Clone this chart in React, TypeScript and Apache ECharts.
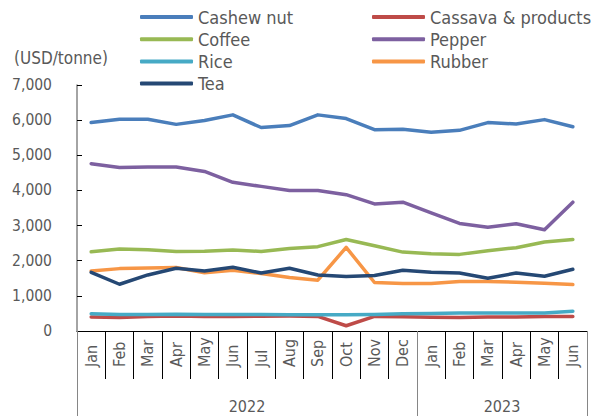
import React, { useEffect, useRef } from "react";
import * as echarts from "echarts";

const months = ["Jan","Feb","Mar","Apr","May","Jun","Jul","Aug","Sep","Oct","Nov","Dec","Jan","Feb","Mar","Apr","May","Jun"];
const years = ["2022", "2023"];
const yTicks = [0, 1000, 2000, 3000, 4000, 5000, 6000, 7000];

const cashew = [5930, 6025, 6025, 5880, 5990, 6150, 5790, 5845, 6150, 6045, 5730, 5740, 5655, 5710, 5930, 5890, 6015, 5810];
const cassava = [400, 385, 415, 425, 415, 415, 420, 425, 415, 150, 415, 405, 390, 385, 395, 400, 410, 415];
const coffee = [2255, 2330, 2310, 2265, 2270, 2305, 2265, 2350, 2400, 2605, 2425, 2245, 2200, 2180, 2285, 2370, 2530, 2605];
const pepper = [4760, 4655, 4665, 4665, 4540, 4230, 4115, 4000, 4000, 3880, 3615, 3665, 3360, 3060, 2955, 3050, 2880, 3665];
const rice = [490, 470, 470, 480, 470, 470, 470, 465, 460, 460, 470, 490, 500, 510, 515, 510, 515, 565];
const rubber = [1710, 1775, 1790, 1805, 1660, 1730, 1635, 1520, 1445, 2380, 1380, 1350, 1350, 1410, 1410, 1390, 1360, 1320];
const tea = [1670, 1330, 1595, 1785, 1710, 1815, 1650, 1785, 1595, 1550, 1580, 1730, 1670, 1650, 1500, 1650, 1560, 1755];

const seriesDefs = [
  { name: "Cashew nut", data: cashew, color: "#4A7EBB" },
  { name: "Cassava & products", data: cassava, color: "#BE4B48" },
  { name: "Coffee", data: coffee, color: "#98B954" },
  { name: "Pepper", data: pepper, color: "#7D60A0" },
  { name: "Rice", data: rice, color: "#46AAC5" },
  { name: "Rubber", data: rubber, color: "#F79646" },
  { name: "Tea", data: tea, color: "#254874" },
];

const FONT = "'DejaVu Sans Condensed', 'Liberation Sans', sans-serif";
const TXT = "#595959";

export default function App() {
  const ref = useRef<HTMLDivElement>(null);
  useEffect(() => {
    if (!ref.current) return;
    const chart = echarts.init(ref.current, undefined, { renderer: "svg" });
    const legendCommon = {
      orient: "vertical",
      top: 8,
      padding: 0,
      itemWidth: 53,
      itemHeight: 4,
      itemGap: 4.2,
      icon: "roundRect",
      textStyle: { fontFamily: FONT, fontSize: 18, color: TXT },
    };
    chart.setOption({
      animation: false,
      backgroundColor: "#ffffff",
      title: {
        text: "(USD/tonne)",
        left: 14,
        top: 49,
        padding: 0,
        textStyle: { fontFamily: FONT, fontSize: 17, fontWeight: "normal", color: TXT },
      },
      legend: [
        { ...legendCommon, left: 140, data: ["Cashew nut", "Coffee", "Rice", "Tea"] },
        { ...legendCommon, left: 372, data: ["Cassava & products", "Pepper", "Rubber"] },
      ],
      grid: { left: 77, right: 17, top: 85, bottom: 85, containLabel: false },
      xAxis: [
        {
          type: "category",
          data: months,
          boundaryGap: true,
          axisLine: { show: true, lineStyle: { color: "#000000", width: 1 } },
          axisTick: { show: true, interval: 0, length: 48, lineStyle: { color: "#000000" } },
          axisLabel: {
            interval: 0,
            rotate: 90,
            align: "left",
            margin: 36,
            fontFamily: FONT,
            fontSize: 16,
            color: TXT,
          },
          splitLine: { show: false },
        },
        {
          type: "value",
          min: 0,
          max: 18,
          position: "bottom",
          axisLine: { show: false },
          axisTick: {
            show: true,
            customValues: [0, 12, 18],
            length: 85,
            lineStyle: { color: "#868686" },
          },
          axisLabel: {
            customValues: [6, 15],
            margin: 67,
            fontFamily: FONT,
            fontSize: 16,
            color: TXT,
            formatter: (v: number) => (v < 12 ? years[0] : years[1]),
          },
          splitLine: { show: false },
        },
      ],
      yAxis: {
        type: "value",
        min: yTicks[0],
        max: yTicks[yTicks.length - 1],
        interval: 1000,
        axisLine: { show: true, lineStyle: { color: "#868686", width: 1.5 } },
        axisTick: { show: true, inside: true, length: 5, lineStyle: { color: "#000000" } },
        axisLabel: {
          margin: 25,
          fontFamily: FONT,
          fontSize: 15.5,
          color: TXT,
          formatter: (v: number) => v.toLocaleString("en-US"),
        },
        splitLine: { show: false },
      },
      series: seriesDefs.map((s) => ({
        name: s.name,
        type: "line",
        data: s.data,
        xAxisIndex: 0,
        yAxisIndex: 0,
        symbol: "none",
        smooth: false,
        color: s.color,
        lineStyle: { color: s.color, width: 3.5, cap: "round", join: "round" },
      })),
    });
    return () => chart.dispose();
  }, []);
  return (
    <div
      ref={ref}
      style={{ position: "fixed", left: 0, top: 0, width: 604, height: 416, background: "#fff" }}
    />
  );
}
